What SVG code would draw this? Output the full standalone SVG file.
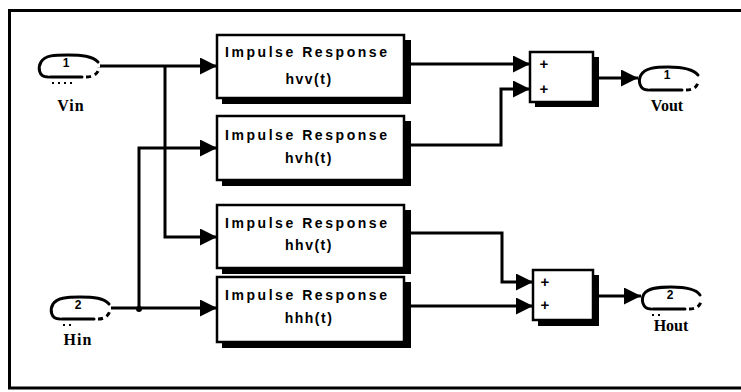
<svg xmlns="http://www.w3.org/2000/svg" width="741" height="392" viewBox="0 0 741 392">
<defs>
<style>
.frame{fill:none;stroke:#000;stroke-width:3}
.wire{fill:none;stroke:#000;stroke-width:3;stroke-linejoin:miter}
.box{fill:#fff;stroke:#000;stroke-width:2.5}
.shadow{fill:#000}
.port{fill:none;stroke:#000;stroke-width:3;stroke-linecap:round}
.portd{fill:none;stroke:#000;stroke-width:3;stroke-dasharray:5 4}
.dots{fill:none;stroke:#000;stroke-width:2;stroke-dasharray:2 4}
.t1{font-family:"Liberation Sans",Arial,sans-serif;font-weight:bold;font-size:14px;fill:#000}
.lbl{font-family:"Liberation Serif","Times New Roman",serif;font-weight:bold;font-size:16px;fill:#000}
.num{font-family:"Liberation Sans",Arial,sans-serif;font-weight:bold;font-size:12px;fill:#000}
.plus{font-family:"Liberation Sans",Arial,sans-serif;font-weight:bold;font-size:15px;fill:#000}
</style>
<marker id="arr" viewBox="0 0 10 10" refX="10" refY="5" markerUnits="userSpaceOnUse" markerWidth="19" markerHeight="17" orient="auto">
<path d="M0,0 L10,5 L0,10 Z" fill="#000"/>
</marker>
</defs>
<rect width="741" height="392" fill="#fff"/>
<path class="frame" d="M741,10.5 H9.5 V388 H741"/>

<g id="connectors">
<path class="wire" d="M100,66 H217" marker-end="url(#arr)"/>
<path class="wire" d="M165,66 V237 H217" marker-end="url(#arr)"/>
<path class="wire" d="M111,308 H217" marker-end="url(#arr)"/>
<path class="wire" d="M139,308 V148 H217" marker-end="url(#arr)"/>
<circle cx="139" cy="309" r="3" fill="#000"/>
<path class="wire" d="M405,64 H530" marker-end="url(#arr)"/>
<path class="wire" d="M405,145 H501 V89 H530" marker-end="url(#arr)"/>
<path class="wire" d="M405,233 H502 V282 H533" marker-end="url(#arr)"/>
<path class="wire" d="M405,306 H533" marker-end="url(#arr)"/>
<path class="wire" d="M594,78 H638" marker-end="url(#arr)"/>
<path class="wire" d="M594,296 H641" marker-end="url(#arr)"/>
</g>

<g id="Vin">
<path class="port" d="M48,77 C38,77 38,67 41,62 C45,55 55,55 68,55 C82,55 92,56 98,62"/>
<path class="port" d="M50,77 H82"/>
<path class="portd" d="M86,77 C95,77 99,72 99,67"/>
<text class="num" x="66" y="67" text-anchor="middle">1</text>
<path class="dots" d="M52,83 H72"/>
<text class="lbl" x="71" y="111" text-anchor="middle" letter-spacing="1">Vin</text>
</g>

<g id="Hin">
<path class="port" d="M60,319 C50,319 50,309 53,304 C57,298 66,297 80,297 C94,297 104,298 109,304"/>
<path class="port" d="M62,319 H94"/>
<path class="portd" d="M98,319 C106,319 110,314 110,309"/>
<text class="num" x="78" y="309" text-anchor="middle">2</text>
<path class="dots" d="M63,325 H75"/>
<text class="lbl" x="78" y="345" text-anchor="middle" letter-spacing="1">Hin</text>
</g>

<g id="hvv">
<rect class="shadow" x="222" y="40" width="189" height="64"/>
<rect class="box" x="217" y="35" width="187" height="63"/>
<text class="t1" x="225" y="57" textLength="162" lengthAdjust="spacing">Impulse Response</text>
<text class="t1" x="309" y="84" text-anchor="middle" letter-spacing="1.5">hvv(t)</text>
</g>

<g id="hvh">
<rect class="shadow" x="222" y="121" width="189" height="65"/>
<rect class="box" x="217" y="116" width="187" height="64"/>
<text class="t1" x="225" y="140" textLength="162" lengthAdjust="spacing">Impulse Response</text>
<text class="t1" x="309" y="163" text-anchor="middle" letter-spacing="1.5">hvh(t)</text>
</g>

<g id="hhv">
<rect class="shadow" x="222" y="210" width="189" height="64"/>
<rect class="box" x="217" y="205" width="187" height="63"/>
<text class="t1" x="225" y="228" textLength="162" lengthAdjust="spacing">Impulse Response</text>
<text class="t1" x="309" y="250" text-anchor="middle" letter-spacing="1.5">hhv(t)</text>
</g>

<g id="hhh">
<rect class="shadow" x="222" y="282" width="189" height="66"/>
<rect class="box" x="217" y="277" width="187" height="65"/>
<text class="t1" x="225" y="300" textLength="162" lengthAdjust="spacing">Impulse Response</text>
<text class="t1" x="309" y="323" text-anchor="middle" letter-spacing="1.5">hhh(t)</text>
</g>

<g id="sum1">
<rect class="shadow" x="535" y="57" width="64" height="50"/>
<rect class="box" x="530" y="52" width="63" height="50"/>
<text class="plus" x="544" y="69" text-anchor="middle">+</text>
<text class="plus" x="544" y="94" text-anchor="middle">+</text>
</g>

<g id="sum2">
<rect class="shadow" x="538" y="275" width="61" height="51"/>
<rect class="box" x="533" y="270" width="60" height="50"/>
<text class="plus" x="545" y="287" text-anchor="middle">+</text>
<text class="plus" x="545" y="310" text-anchor="middle">+</text>
</g>

<g id="Vout">
<path class="port" d="M648,90 C639,90 638,80 641,75 C645,68 655,67 668,67 C682,67 693,69 698,75"/>
<path class="port" d="M650,90 H682"/>
<path class="portd" d="M686,90 C694,90 698,86 698,81"/>
<text class="num" x="667" y="79" text-anchor="middle">1</text>
<text class="lbl" x="667" y="111" text-anchor="middle">Vout</text>
</g>

<g id="Hout">
<path class="port" d="M651,309 C642,309 641,299 644,294 C648,288 658,287 671,287 C685,287 696,289 700,295"/>
<path class="port" d="M653,309 H685"/>
<path class="portd" d="M689,309 C697,309 701,305 701,300"/>
<text class="num" x="670" y="299" text-anchor="middle">2</text>
<path class="dots" d="M652,315 H664"/>
<text class="lbl" x="671" y="331" text-anchor="middle">Hout</text>
</g>
</svg>
